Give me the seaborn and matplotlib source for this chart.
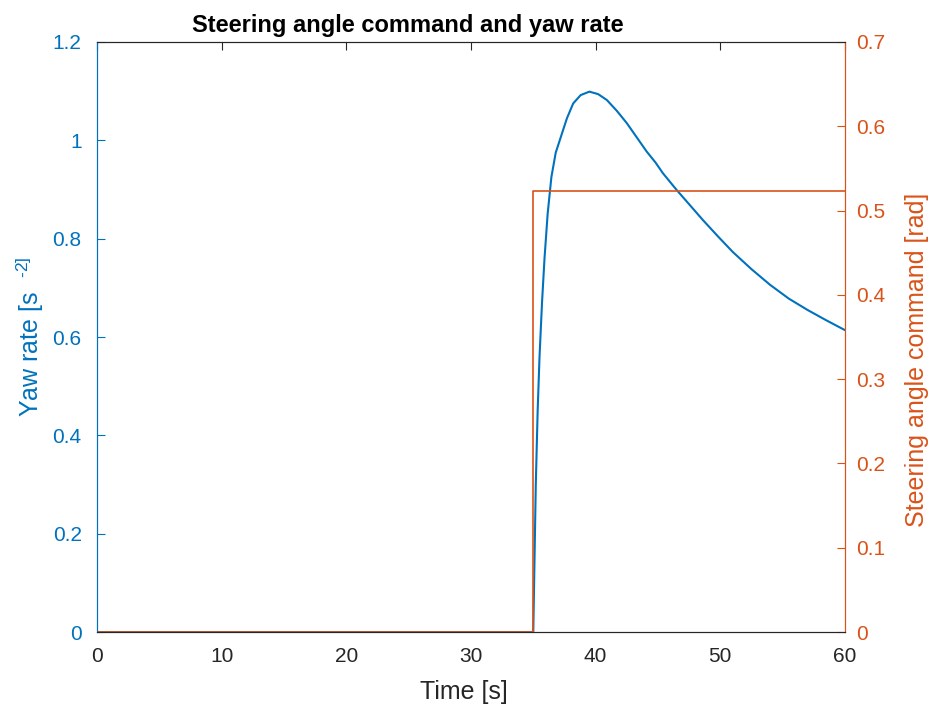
import numpy as np
import pandas as pd
import seaborn as sns
import matplotlib.pyplot as plt

# Values
time_s = [0, 35.0, 35.1, 35.2, 35.35, 35.5, 35.7, 35.9, 36.15, 36.45, 36.8, 37.25, 37.7,
          38.2, 38.8, 39.5, 40.2, 40.9, 41.7, 42.5, 43.3, 44.1, 44.8, 45.4, 46.5,
          47.5, 48.6, 49.8, 51.0, 52.5, 54.0, 55.5, 57.0, 58.5, 60.0]
yaw_rate = [0, 0, 0.15, 0.3, 0.45, 0.56, 0.67, 0.76, 0.85, 0.925, 0.975, 1.01, 1.045,
            1.075, 1.092, 1.099, 1.094, 1.082, 1.06, 1.035, 1.006, 0.977, 0.955, 0.933, 0.899,
            0.87, 0.838, 0.805, 0.773, 0.738, 0.706, 0.678, 0.655, 0.634, 0.614]

step_time = [0, 35.0, 35.0, 60.0]
steer_cmd = [0, 0, np.pi / 6, np.pi / 6]

yaw_df = pd.DataFrame({"time": time_s, "yaw": yaw_rate})
steer_df = pd.DataFrame({"time": step_time, "steer": steer_cmd})

blue = "#0072BD"
orange = "#D95319"
dark = "#262626"

sns.set_style("white")
plt.rcParams["font.family"] = ["Liberation Sans", "DejaVu Sans"]
plt.rcParams["mathtext.fontset"] = "custom"
plt.rcParams["mathtext.rm"] = "Liberation Sans"

fig = plt.figure(figsize=(9.35, 7.08), dpi=100)
ax = fig.add_axes([0.1037, 0.1073, 0.8, 0.8334])
ax2 = ax.twinx()

# yaw rate on left axis, steering command on right
sns.lineplot(data=yaw_df, x="time", y="yaw", ax=ax, color=blue, linewidth=1.5,
             sort=False, estimator=None)
sns.lineplot(data=steer_df, x="time", y="steer", ax=ax2, color=orange, linewidth=1.2,
             sort=False, estimator=None)

ax.set_xlim(0, 60)
ax.set_ylim(0, 1.2)
ax2.set_ylim(0, 0.7)
ax.set_xticks([0, 10, 20, 30, 40, 50, 60])
ax.set_yticks(np.arange(0, 1.21, 0.2))
ax2.set_yticks(np.arange(0, 0.71, 0.1))
ax.set_yticklabels(["0", "0.2", "0.4", "0.6", "0.8", "1", "1.2"])
ax2.set_yticklabels(["0", "0.1", "0.2", "0.3", "0.4", "0.5", "0.6", "0.7"])

ax.tick_params(axis="x", direction="in", length=6, width=0.8, colors=dark,
               labelsize=15, top=True, pad=11)
ax.tick_params(axis="y", direction="in", length=6, width=0.8, colors=blue,
               labelsize=15, pad=11)
ax2.tick_params(axis="y", direction="in", length=6, width=0.8, colors=orange,
                labelsize=15, pad=8)

for a in (ax, ax2):
    for s in a.spines.values():
        s.set_linewidth(0.8)
        s.set_color(dark)
    a.spines["left"].set_color(blue)
    a.spines["right"].set_color(orange)

ax.set_xlabel("Time [s]", fontsize=18, color=dark, labelpad=10)
ax.xaxis.label.set_x(0.49)
ax.set_ylabel("Yaw rate [s  $^{\\mathregular{\u20102]}}$", fontsize=18, color=blue, labelpad=5)
ax2.set_ylabel("Steering angle command [rad]", fontsize=18, color=orange, labelpad=14)
ax2.yaxis.label.set_y(0.461)
ax.set_title("Steering angle command and yaw rate", fontsize=17, fontweight="bold",
             color="black", pad=7, x=0.416)

plt.savefig("out.png", dpi=100)
